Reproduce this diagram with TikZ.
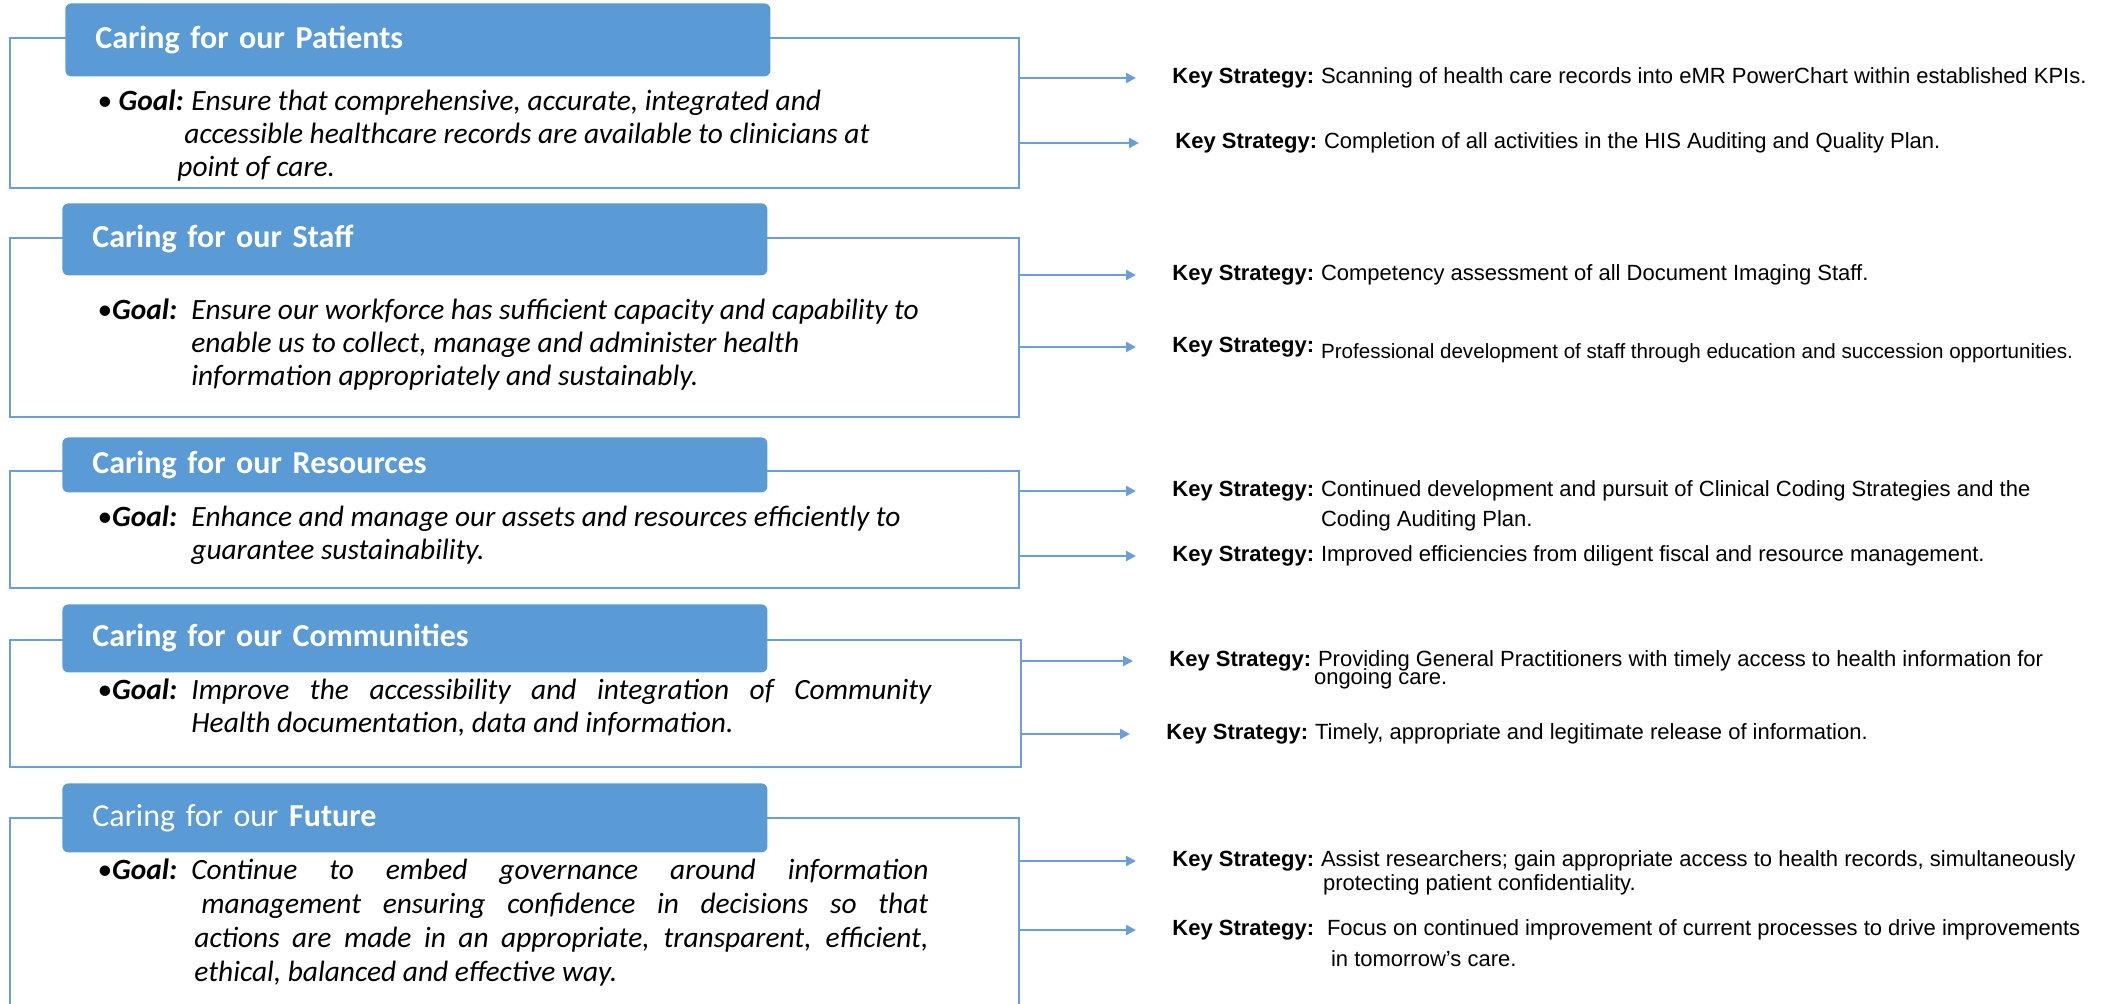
\documentclass[tikz,border=0pt]{standalone}
\usepackage{fontspec}
\setmainfont{Liberation Sans}
\newfontfamily\calibri{Carlito}
\usetikzlibrary{arrows.meta}
\definecolor{boxblue}{HTML}{5B9BD5}
\definecolor{lineblue}{HTML}{6A9FD8}

\begin{document}
\begin{tikzpicture}[x=0.5pt,y=-0.5pt,
  goalframe/.style={draw=lineblue,line width=0.8pt},
  titlebox/.style={fill=boxblue,rounded corners=3pt,anchor=north west,minimum width=352.5pt,text width=322.5pt,inner xsep=15pt,inner ysep=0pt,align=left,text=white,font=\calibri\fontsize{16pt}{19pt}\selectfont\bfseries},
  goaltext/.style={anchor=base west,inner sep=0pt,font=\calibri\fontsize{14.7pt}{16.5pt}\selectfont\itshape},
  keylabel/.style={anchor=west,inner sep=0pt,font=\fontsize{11pt}{13pt}\selectfont\bfseries},
  strategy/.style={anchor=base west,inner sep=0pt,font=\fontsize{11pt}{13pt}\selectfont},
  arr/.style={draw=lineblue,line width=1.2pt,-{Triangle[length=5pt,width=5pt]},shorten >=18pt}]
\useasboundingbox (0,0) rectangle (2115,1004);

% Patients
\draw[goalframe] (10,38) rectangle (1019,188);
\coordinate (r1) at (1019,38);
\node[titlebox,minimum height=36.5pt] (t1) at (65,3) {Caring for our Patients};
\node[goaltext] (g1) at (97,111) {\begin{tabular}[t]{@{}p{47pt}@{}l@{}}
• \textbf{Goal:} & Ensure that comprehensive, accurate, integrated and\\
 & \hspace*{-3.5pt}accessible healthcare records are available to clinicians at\\
 & \hspace*{-7pt}point of care.
\end{tabular}};

% Staff
\draw[goalframe] (10,238) rectangle (1019,417);
\coordinate (r2) at (1019,238);
\node[titlebox,minimum height=36pt] (t2) at (62,203) {Caring for our Staff};
\node[goaltext] (g2) at (97,320) {\begin{tabular}[t]{@{}p{47pt}@{}l@{}}
•\textbf{Goal:} & Ensure our workforce has sufficient capacity and capability to\\
 & enable us to collect, manage and administer health\\
 & information appropriately and sustainably.
\end{tabular}};

% Resources
\draw[goalframe] (10,471) rectangle (1019,588);
\coordinate (r3) at (1019,471);
\node[titlebox,minimum height=27.5pt] (t3) at (62,437) {Caring for our Resources};
\node[goaltext] (g3) at (97,527) {\begin{tabular}[t]{@{}p{47pt}@{}l@{}}
•\textbf{Goal:} & Enhance and manage our assets and resources efficiently to\\
 & guarantee sustainability.
\end{tabular}};

% Communities
\draw[goalframe] (10,640) rectangle (1021,767);
\coordinate (r4) at (1021,640);
\node[titlebox,minimum height=34pt] (t4) at (62,604) {Caring for our Communities};
\node[goaltext] (g4) at (97,700) {\begin{tabular}[t]{@{}p{47pt}@{}l@{}}
•\textbf{Goal:} & \makebox[370pt][s]{Improve the accessibility and integration of Community}\\
 & Health documentation, data and information.
\end{tabular}};

% Future
\draw[goalframe] (10,1012) -- (10,818) -- (1019,818) -- (1019,1012);
\coordinate (r5) at (1019,818);
\node[titlebox,minimum height=34.5pt] (t5) at (62,783) {{\mdseries Caring for our} Future};
\node[goaltext] (g5) at (97,879) {\begin{tabular}[t]{@{}p{47pt}@{}l@{}}
•\textbf{Goal:} & \makebox[368.5pt][s]{Continue to embed governance around information}\\[0.5pt]
 & \hspace*{5pt}\makebox[363.5pt][s]{management ensuring confidence in decisions so that}\\[0.5pt]
 & \hspace*{1.5pt}\makebox[367pt][s]{actions are made in an appropriate, transparent, efficient,}\\[0.5pt]
 & \hspace*{1.5pt}ethical, balanced and effective way.
\end{tabular}};

% key strategies
\node[keylabel] (k11) at (1172,78) {Key Strategy:};
\node[strategy] (s11) at ([xshift=3pt]k11.base east) {Scanning of health care records into eMR PowerChart within established KPIs.};
\node[keylabel] (k12) at (1175,143) {Key Strategy:};
\node[strategy] (s12) at ([xshift=3pt]k12.base east) {Completion of all activities in the HIS Auditing and Quality Plan.};

\node[keylabel] (k21) at (1172,275) {Key Strategy:};
\node[strategy] (s21) at ([xshift=3pt]k21.base east) {Competency assessment of all Document Imaging Staff.};
\node[keylabel] (k22) at (1172,347) {Key Strategy:};
\node[strategy,font=\fontsize{10.3pt}{13pt}\selectfont] (s22) at ([xshift=3pt,yshift=-3pt]k22.base east) {Professional development of staff through education and succession opportunities.};

\node[keylabel] (k31) at (1172,491) {Key Strategy:};
\node[strategy] (s31) at ([xshift=3pt]k31.base east) {\begin{tabular}[t]{@{}l@{}}Continued development and pursuit of Clinical Coding Strategies and the\\[2pt]
Coding Auditing Plan.\end{tabular}};
\node[keylabel] (k32) at (1172,556) {Key Strategy:};
\node[strategy] (s32) at ([xshift=3pt]k32.base east) {Improved efficiencies from diligent fiscal and resource management.};

\node[keylabel] (k41) at (1169,661) {Key Strategy:};
\node[strategy] (s41) at ([xshift=3pt]k41.base east) {\begin{tabular}[t]{@{}l@{}}Providing General Practitioners with timely access to health information for\\[-4pt]
\hspace*{-2pt}ongoing care.\end{tabular}};
\node[keylabel] (k42) at (1166,734) {Key Strategy:};
\node[strategy] (s42) at ([xshift=3pt]k42.base east) {Timely, appropriate and legitimate release of information.};

\node[keylabel] (k51) at (1172,861) {Key Strategy:};
\node[strategy] (s51) at ([xshift=3pt]k51.base east) {\begin{tabular}[t]{@{}l@{}}Assist researchers; gain appropriate access to health records, simultaneously\\[-1pt]
\hspace*{1pt}protecting patient confidentiality.\end{tabular}};
\node[keylabel] (k52) at (1172,930) {Key Strategy:};
\node[strategy] (s52) at ([xshift=6pt]k52.base east) {\begin{tabular}[t]{@{}l@{}}Focus on continued improvement of current processes to drive improvements\\[2.5pt]
\hspace*{2pt}in tomorrow's care.\end{tabular}};

% arrows
\draw[arr] (r1 |- k11.west) -- (k11.west);
\draw[arr] (r1 |- k12.west) -- (k12.west);
\draw[arr] (r2 |- k21.west) -- (k21.west);
\draw[arr] (r2 |- k22.west) -- (k22.west);
\draw[arr] (r3 |- k31.west) -- (k31.west);
\draw[arr] (r3 |- k32.west) -- (k32.west);
\draw[arr] (r4 |- k41.west) -- (k41.west);
\draw[arr] (r4 |- k42.west) -- (k42.west);
\draw[arr] (r5 |- k51.west) -- (k51.west);
\draw[arr] (r5 |- k52.west) -- (k52.west);
\end{tikzpicture}
\end{document}
